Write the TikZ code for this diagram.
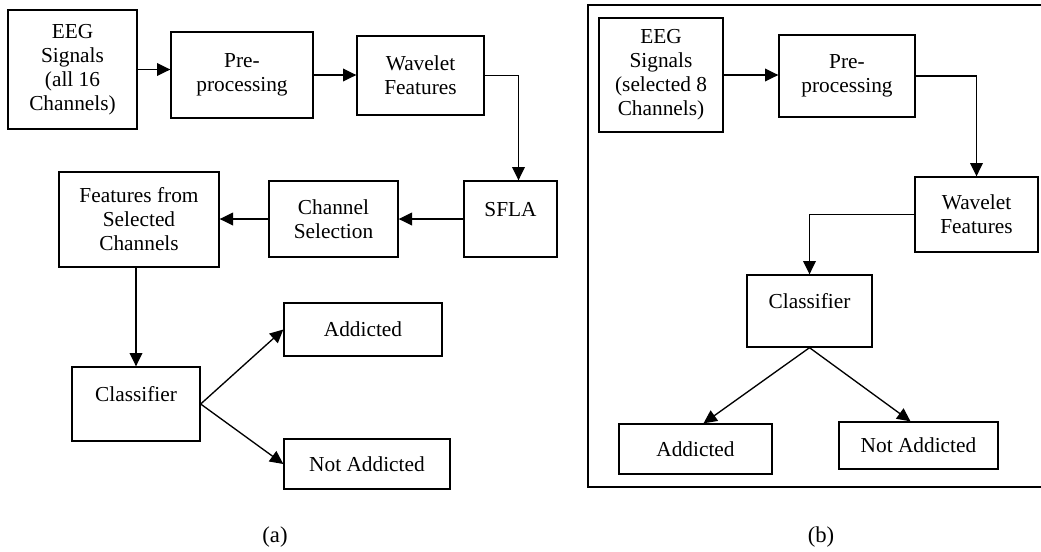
\documentclass[tikz,border=0pt]{standalone}
\usepackage{fontspec}
\setmainfont{Liberation Serif}
\usetikzlibrary{arrows.meta}

\begin{document}
\begin{tikzpicture}[x=0.75pt, y=-0.75pt,
    blk/.style={draw, line width=1pt, align=center, inner sep=2pt,
        font=\fontsize{16}{18}\selectfont},
    uptext/.style={text depth=15pt},
    flow/.style={line width=1pt, -{Triangle[length=10pt, width=9.5pt]}},
    subcap/.style={font=\fontsize{17}{18}\selectfont}]
    \useasboundingbox (0,0) rectangle (1041,551);

    % (a) all channels
    \node[blk, minimum width=96.75pt, minimum height=89.25pt] (eega) at (72.5,69.5)
        {EEG\\Signals\\(all 16\\Channels)};
    \node[blk, minimum width=106.5pt, minimum height=64.5pt] (prea) at (242,75)
        {Pre-\\processing};
    \node[blk, minimum width=95.25pt, minimum height=59.25pt] (wava) at (420.5,75.5)
        {Wavelet\\Features};
    \node[blk, uptext, minimum width=69.75pt, minimum height=57pt] (sfla) at (510.5,219)
        {SFLA};
    \node[blk, minimum width=96.75pt, minimum height=57pt] (chsa) at (333.5,219)
        {Channel\\Selection};
    \node[blk, minimum width=120pt, minimum height=71.25pt] (fsca) at (139,219.5)
        {Features from\\Selected\\Channels};
    \node[blk, uptext, minimum width=96pt, minimum height=55.5pt] (clsa) at (136,404)
        {Classifier};
    \node[blk, minimum width=118.5pt, minimum height=39.75pt] (adda) at (363,329.5)
        {Addicted};
    \node[blk, minimum width=124.5pt, minimum height=37.5pt] (nada) at (367,464)
        {Not Addicted};

    \draw[flow] (eega.east) -- (eega.east -| prea.west);
    \draw[flow] (prea.east) -- (prea.east -| wava.west);
    \draw[flow] (wava.east) -| ([xshift=6pt]sfla.north);
    \draw[flow] (sfla.west) -- (chsa.east);
    \draw[flow] (chsa.west) -- (chsa.west -| fsca.east);
    \draw[flow] (fsca.south -| clsa.north) -- (clsa.north);
    \draw[flow] (clsa.east) -- (adda.west);
    \draw[flow] (clsa.east) -- (nada.west);

    % (b) selected channels
    \node[draw, line width=1pt, minimum width=340.5pt, minimum height=361.5pt] (frameb) at (815,246) {};
    \node[blk, minimum width=93pt, minimum height=85.5pt] (eegb) at (661,75)
        {EEG\\Signals\\(selected 8\\Channels)};
    \node[blk, minimum width=102pt, minimum height=61.5pt] (preb) at (847,76)
        {Pre-\\processing};
    \node[blk, minimum width=92.25pt, minimum height=56.25pt] (wavb) at (976.5,214.5)
        {Wavelet\\Features};
    \node[blk, uptext, minimum width=93.75pt, minimum height=54pt] (clsb) at (809.5,311)
        {Classifier};
    \node[blk, minimum width=114.75pt, minimum height=37.5pt] (addb) at (695.5,449)
        {Addicted};
    \node[blk, minimum width=119.25pt, minimum height=35.25pt] (nadb) at (918.5,445.5)
        {Not Addicted};

    \draw[flow] (eegb.east) -- (eegb.east -| preb.west);
    \draw[flow] (preb.east) -| (wavb.north);
    \draw[flow] (wavb.west) -| (clsb.north);
    \draw[flow] (clsb.south) -- ([xshift=6pt]addb.north);
    \draw[flow] (clsb.south) -- ([xshift=-6pt]nadb.north);

    \node[subcap] (capa) at (275,537) {(a)};
    \node[subcap] (capb) at (821,537) {(b)};
\end{tikzpicture}
\end{document}
